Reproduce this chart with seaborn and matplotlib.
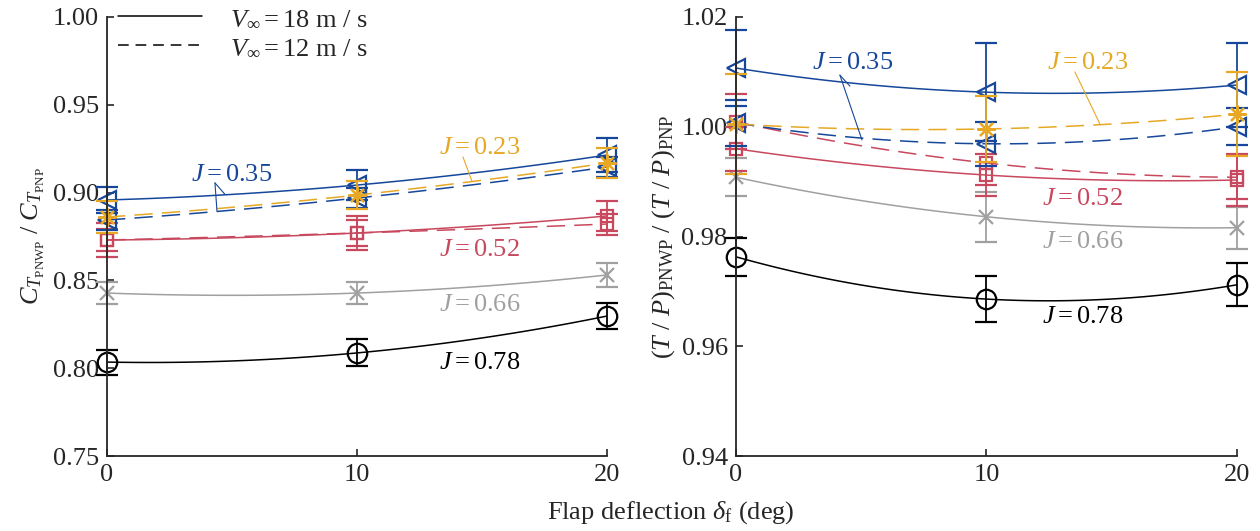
import matplotlib
matplotlib.use("Agg")
import matplotlib.pyplot as plt
from matplotlib.lines import Line2D
import numpy as np
import seaborn as sns

# flap deflection (deg)
flap = [0, 10, 20]

# left panel: C_T ratio
ct_078 = [0.8035, 0.8087, 0.8297]
ct_066 = [0.8428, 0.8428, 0.8531]
ct_052_18 = [0.8730, 0.8770, 0.8867]
ct_052_12 = [0.8730, 0.8770, 0.8821]
ct_035_18 = [0.8958, 0.9043, 0.9214]
ct_035_12 = [0.8844, 0.8969, 0.9146]
ct_023 = [0.8861, 0.8986, 0.9169]

ct_078_err = [0.0071, 0.0077, 0.0074]
ct_066_err = [0.0065, 0.0065, 0.0068]
ct_052_18_err = [0.0097, 0.0097, 0.0085]
ct_052_12_err = [0.0060, 0.0074, 0.0060]
ct_035_18_err = [0.0074, 0.0085, 0.0097]
ct_035_12_err = [0.0057, 0.0057, 0.0057]
ct_023_err = [0.0090, 0.0080, 0.0085]

# right panel: (T/P) ratio
tp_078 = [0.9763, 0.9686, 0.9712]
tp_066 = [0.9908, 0.9836, 0.9816]
tp_052_18 = [0.9960, 0.9912, 0.9903]
tp_052_12 = [1.0009, 0.9934, 0.9908]
tp_035_18 = [1.0107, 1.0063, 1.0076]
tp_035_12 = [1.0007, 0.9969, 1.0000]
tp_023 = [1.0005, 0.9996, 1.0023]

tp_078_err = [0.0035, 0.0042, 0.0039]
tp_066_err = [0.0035, 0.0046, 0.0038]
tp_052_18_err = [0.0040, 0.0038, 0.0047]
tp_052_12_err = [0.0050, 0.0040, 0.0040]
tp_035_18_err = [0.0069, 0.0089, 0.0077]
tp_035_12_err = [0.0042, 0.0040, 0.0034]
tp_023_err = [0.0091, 0.0060, 0.0076]

BLACK = "#000000"
GRAY = "#A0A0A0"
RED = "#C8485E"
BLUE = "#16479A"
YELLOW = "#E6A825"
DASH = (0, (12, 6))

sns.set_style("ticks")
plt.rcParams["font.family"] = ["Liberation Serif", "DejaVu Serif"]
plt.rcParams["mathtext.fontset"] = "custom"
plt.rcParams["mathtext.rm"] = "Liberation Serif"
plt.rcParams["mathtext.it"] = "Liberation Serif:italic"
plt.rcParams["font.size"] = 19
plt.rcParams["xtick.direction"] = "in"
plt.rcParams["ytick.direction"] = "in"

fig = plt.figure(figsize=(12.6, 5.31), dpi=100)
ax1 = fig.add_axes([0.0849, 0.1412, 0.3968, 0.8268])
ax2 = fig.add_axes([0.5841, 0.1412, 0.3976, 0.8268])

# (values, errors, colour, marker, markersize, dashed)
left_series = [
    (ct_078, ct_078_err, BLACK, "o", 14, False),
    (ct_066, ct_066_err, GRAY, "x", 10, False),
    (ct_052_18, ct_052_18_err, RED, "s", 9, False),
    (ct_052_12, ct_052_12_err, RED, "s", 9, True),
    (ct_035_18, ct_035_18_err, BLUE, "<", 13, False),
    (ct_035_12, ct_035_12_err, BLUE, "<", 13, True),
    (ct_023, ct_023_err, YELLOW, (8, 2, 0), 13, True),
]
right_series = [
    (tp_078, tp_078_err, BLACK, "o", 14, False),
    (tp_066, tp_066_err, GRAY, "x", 10, False),
    (tp_052_18, tp_052_18_err, RED, "s", 9, False),
    (tp_052_12, tp_052_12_err, RED, "s", 9, True),
    (tp_035_18, tp_035_18_err, BLUE, "<", 13, False),
    (tp_035_12, tp_035_12_err, BLUE, "<", 13, True),
    (tp_023, tp_023_err, YELLOW, (8, 2, 0), 13, True),
]


def draw_panel(ax, series):
    x = np.array(flap, dtype=float)
    for vals, errs, color, marker, ms, dashed in series:
        sns.regplot(x=x, y=np.array(vals), order=2, ci=None, scatter=False, ax=ax,
                    line_kws={"color": color, "lw": 1.1,
                              "ls": DASH if dashed else "-"})
        cont = ax.errorbar(x, vals, yerr=errs, fmt="none", ecolor=color,
                           elinewidth=1.3, capsize=8, capthick=1.6)
        for art in cont.get_children():
            art.set_clip_on(False)
        ax.plot(x, vals, marker=marker, ms=ms, mfc="none", mec=color, mew=1.6,
                ls="none", clip_on=False)
    ax.set_xlim(0, 20)
    ax.set_xticks([0, 10, 20])
    ax.set_xlabel("")
    sns.despine(ax=ax)
    ax.tick_params(length=5, width=1.2, pad=6)
    for s in ("left", "bottom"):
        ax.spines[s].set_linewidth(1.3)


draw_panel(ax1, left_series)
draw_panel(ax2, right_series)

ax1.set_ylim(0.75, 1.00)
ax1.set_yticks([0.75, 0.80, 0.85, 0.90, 0.95, 1.00])
ax1.set_yticklabels(["0.75", "0.80", "0.85", "0.90", "0.95", "1.00"])
ax1.set_ylabel(r"$C_{T_\mathrm{PNWP}}\ /\ C_{T_\mathrm{PNP}}$", labelpad=4)

ax2.set_ylim(0.94, 1.02)
ax2.set_yticks([0.94, 0.96, 0.98, 1.00, 1.02])
ax2.set_yticklabels(["0.94", "0.96", "0.98", "1.00", "1.02"])
ax2.set_ylabel(r"$(T\ /\ P)_\mathrm{PNWP}\ /\ (T\ /\ P)_\mathrm{PNP}$", labelpad=3)

fig.text(0.532, 0.034, r"Flap deflection $\delta_\mathrm{f}$ (deg)", ha="center", va="center")

# legend for the two free-stream speeds
handles = [Line2D([], [], color="black", lw=1.1),
           Line2D([], [], color="black", lw=1.1, ls=(0, (7, 4.5)))]
ax1.legend(handles, [r"$V_\infty = 18$ m / s", r"$V_\infty = 12$ m / s"],
           loc="upper left", bbox_to_anchor=(0.022, 1.024), frameon=False,
           handlelength=3.2, handletextpad=1.05, labelspacing=0.22,
           borderpad=0, borderaxespad=0)

# labels, left panel
ax1.text(5.0, 0.910, r"$J = 0.35$", color=BLUE, ha="center", va="center")
ax1.plot([4.32, 4.72], [0.9055, 0.8990], color=BLUE, lw=0.8)
ax1.plot([4.32, 4.40], [0.9055, 0.8895], color=BLUE, lw=0.8)
ax1.text(14.92, 0.9254, r"$J = 0.23$", color=YELLOW, ha="center", va="center")
ax1.plot([14.24, 14.6], [0.9203, 0.9065], color=YELLOW, lw=0.8)
ax1.text(14.92, 0.8673, r"$J = 0.52$", color=RED, ha="center", va="center")
ax1.text(14.92, 0.8360, r"$J = 0.66$", color=GRAY, ha="center", va="center")
ax1.text(14.92, 0.8030, r"$J = 0.78$", color=BLACK, ha="center", va="center")

# labels, right panel
ax2.text(4.67, 1.0116, r"$J = 0.35$", color=BLUE, ha="center", va="center")
ax2.plot([4.15, 4.55], [1.0094, 1.0074], color=BLUE, lw=0.8)
ax2.plot([4.15, 5.03], [1.0094, 0.9976], color=BLUE, lw=0.8)
ax2.text(14.05, 1.0116, r"$J = 0.23$", color=YELLOW, ha="center", va="center")
ax2.plot([13.53, 14.53], [1.0100, 1.0005], color=YELLOW, lw=0.8)
ax2.text(13.85, 0.9868, r"$J = 0.52$", color=RED, ha="center", va="center")
ax2.text(13.85, 0.9790, r"$J = 0.66$", color=GRAY, ha="center", va="center")
ax2.text(13.85, 0.9653, r"$J = 0.78$", color=BLACK, ha="center", va="center")

fig.savefig("out.png", dpi=100)
plt.close(fig)
